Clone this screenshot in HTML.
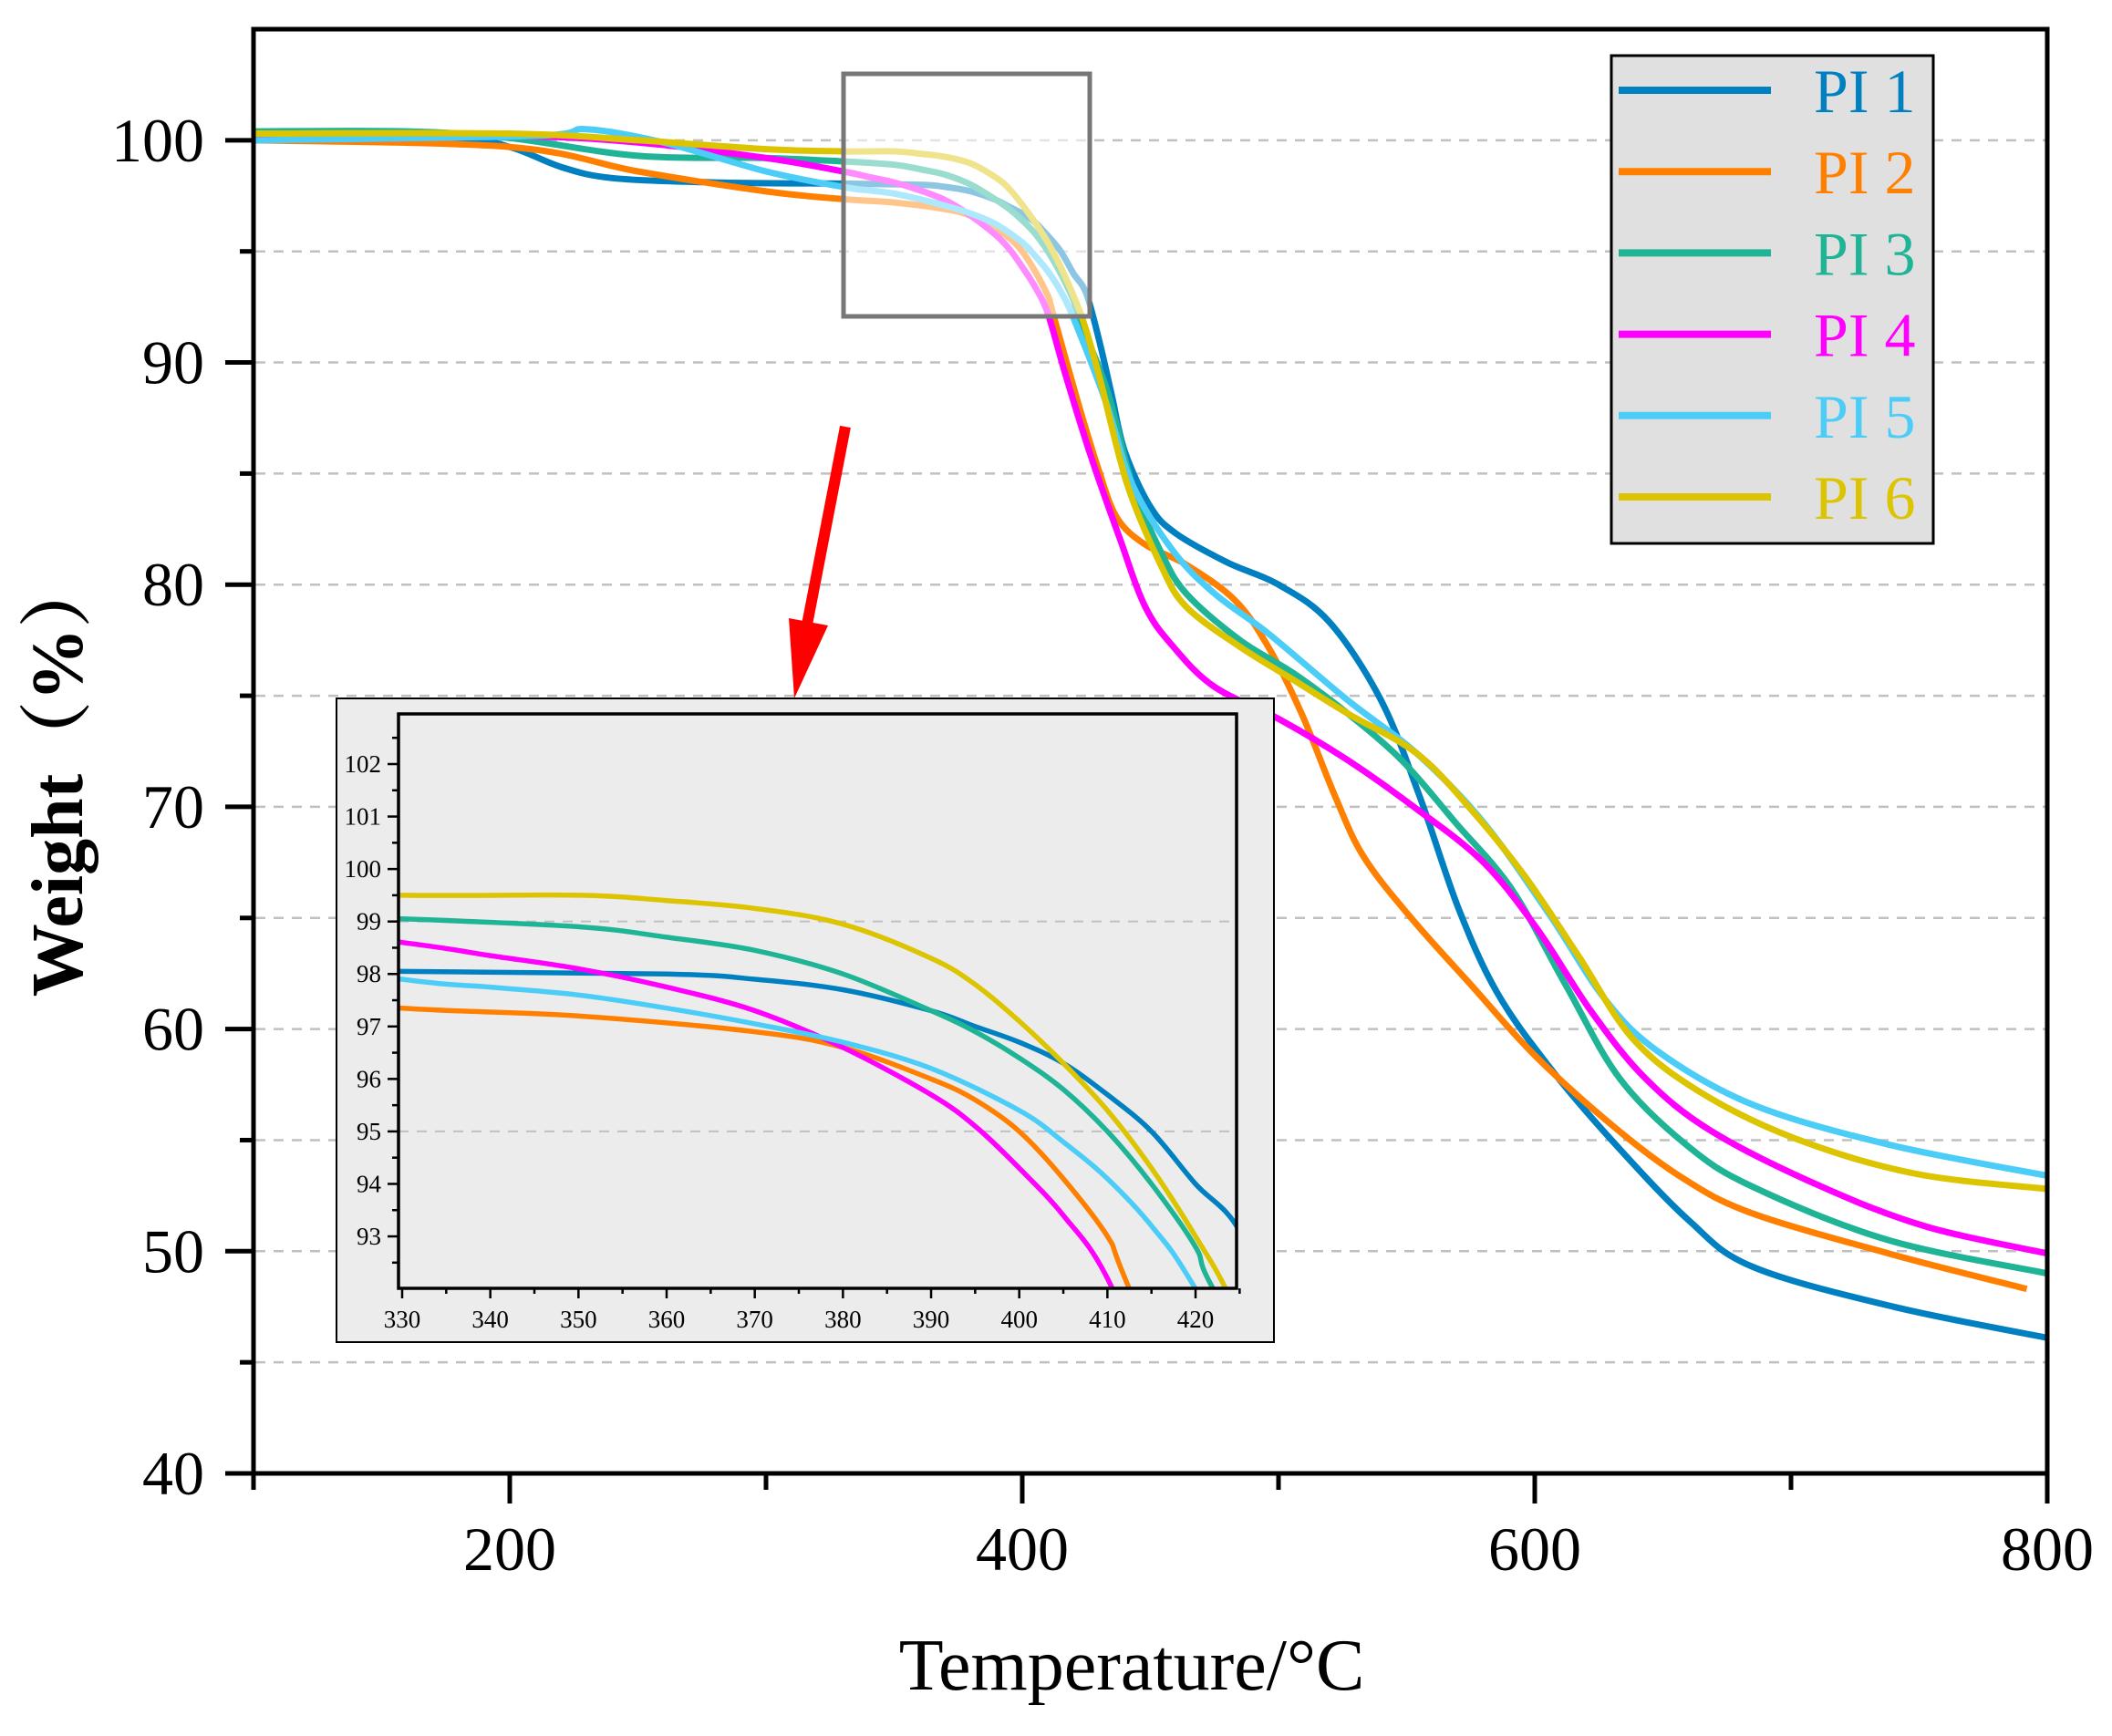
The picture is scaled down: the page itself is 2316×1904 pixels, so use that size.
<!DOCTYPE html>
<html><head><meta charset="utf-8"><style>
html,body{margin:0;padding:0;background:#fff;overflow:hidden;width:2316px;height:1904px}
svg{display:block}
text{font-family:"Liberation Serif","Noto Serif CJK SC",serif}
</style></head>
<body>
<svg id="chart" width="2316" height="1904" viewBox="0 0 2316 1904" xmlns="http://www.w3.org/2000/svg">
<defs>
<clipPath id="mainClip"><rect x="278" y="32" width="1967" height="1584"/></clipPath>
<clipPath id="insetClip"><rect x="437" y="783" width="919" height="630"/></clipPath>
</defs>
<g id="grid"></g>
<g id="mainSeries" clip-path="url(#mainClip)"></g>
<rect x="925" y="81" width="270" height="266" fill="#ffffff" fill-opacity="0.55" stroke="#777" stroke-width="5"/>
<g id="axes"></g>
<g>
<line x1="927" y1="468" x2="885" y2="685" stroke="#ff0000" stroke-width="12"/>
<polygon points="865,678 908,686 871,766" fill="#ff0000"/>
</g>
<g id="inset">
<rect x="369" y="766" width="1028" height="706" fill="#ececec" stroke="#000" stroke-width="2"/>
<g id="insetGrid"></g>
<g id="insetSeries" clip-path="url(#insetClip)"></g>
<g id="insetAxes"></g>
</g>
<g id="legend">
<rect x="1767" y="61" width="353" height="535" fill="#e0e0e0" stroke="#000" stroke-width="3"/>
</g>
<text x="1241" y="1853" font-size="80" text-anchor="middle">Temperature/°C</text>
<text transform="translate(90,851) rotate(-90)" font-size="80" font-weight="bold" text-anchor="middle">Weight（%）</text>
</svg>
<script>
const seriesNames = ["PI 1","PI 2","PI 3","PI 4","PI 5","PI 6"];
const seriesColors = ["#0080c0","#ff8000","#20b496","#ff00ff","#4ccdf8","#dcc400"];
const pi1T = [100,180,200,220,240,280,330,360,370,380,390,395,400,405,410,415,420,425,430,435,440,450,460,480,500,520,540,555,570,585,605,630,660,685,740,800];
const pi1V = [100,100,99.7,98.8,98.3,98.1,98.05,98.0,97.9,97.7,97.3,97.0,96.7,96.3,95.7,95.0,94.0,93.1,91,88.5,86,83.5,82.3,81,80,78.3,74.8,70.5,65.5,61.7,58.4,55,51.4,49.3,47.5,46.1];
const pi2T = [100,200,250,300,330,350,370,380,390,395,400,405,410,412,422,430,437,448,464,483,496,509,522,533,551,575,601,633,659,685,738,792];
const pi2V = [100,99.7,98.6,97.7,97.35,97.2,96.9,96.6,96.0,95.6,95.0,94.1,93.0,92.2,88.1,85.1,83,81.8,80.9,79.3,77.2,74.2,70.5,67.8,65.1,62,58.7,55.4,53.2,51.7,49.9,48.3];
const pi3T = [100,160,200,250,300,330,350,360,370,380,390,395,400,405,410,415,420,422,433,443,454,464,485,506,527,548,569,591,612,633,659,685,738,800];
const pi3V = [100.4,100.4,100.1,99.3,99.2,99.05,98.9,98.7,98.45,98.0,97.3,96.9,96.4,95.8,95.0,94.0,92.8,92.0,88.8,84.5,81.5,79.6,77.5,76,74.2,72.1,69.3,66.3,62,57.8,54.8,52.9,50.5,49];
const pi4T = [100,200,250,300,330,340,350,360,370,380,390,395,400,405,410,417,427,438,448,459,475,501,527,554,580,601,622,643,669,712,753,800];
const pi4V = [100.2,100.2,99.9,99.2,98.6,98.35,98.1,97.75,97.3,96.6,95.7,95.1,94.3,93.4,92.2,89.4,85.7,82.1,79,77.2,75.4,73.9,72.1,69.9,67.5,64.5,60.8,57.8,55.4,52.9,51.1,49.9];
const pi5T = [100,210,230,260,300,330,340,350,360,370,380,390,400,405,410,415,420,433,443,459,475,496,527,554,580,606,627,648,685,738,800];
const pi5V = [100,100.2,100.5,99.9,98.6,97.9,97.75,97.6,97.35,97.05,96.7,96.2,95.4,94.8,94.1,93.2,92.0,88.1,84.5,81.5,79.6,77.8,74.8,72.4,69.3,65.1,61.4,59,56.6,54.8,53.4];
const pi6T = [100,200,250,300,330,350,360,370,380,390,395,400,405,410,415,420,424,430,441,454,464,485,506,527,554,575,596,617,638,664,701,748,800];
const pi6V = [100.3,100.3,100.0,99.6,99.5,99.5,99.4,99.25,98.95,98.3,97.8,97.1,96.3,95.4,94.3,93.0,91.8,89.4,84.5,80.9,79,77.2,75.7,74.2,72.4,69.9,66.9,63.3,59.6,57.2,55.1,53.5,52.8];
const seriesT = [pi1T,pi2T,pi3T,pi4T,pi5T,pi6T];
const seriesV = [pi1V,pi2V,pi3V,pi4V,pi5V,pi6V];
const xTickLabels = [200,400,600,800];
const yTickLabels = [40,50,60,70,80,90,100];
const insetXTicks = [330,340,350,360,370,380,390,400,410,420];
const insetYTicks = [93,94,95,96,97,98,99,100,101,102];

const NS="http://www.w3.org/2000/svg";
function mk(tag,attrs,parent){const e=document.createElementNS(NS,tag);for(const k in attrs)e.setAttribute(k,attrs[k]);parent.appendChild(e);return e;}
const mx=t=>278+(t-100)*(1967/700);
const my=v=>1616-(v-40)*(1584/65);
const ix=t=>441+(t-330)*9.667;
const iy=v=>838+(102-v)*57.56;

function pathD(T,V,fx,fy){
  const p=T.map((t,i)=>[fx(t),fy(V[i])]);
  let d="M"+p[0][0].toFixed(1)+","+p[0][1].toFixed(1);
  for(let i=0;i<p.length-1;i++){
    const p0=p[Math.max(0,i-1)],p1=p[i],p2=p[i+1],p3=p[Math.min(p.length-1,i+2)];
    const c1=[p1[0]+(p2[0]-p0[0])/6,p1[1]+(p2[1]-p0[1])/6];
    const c2=[p2[0]-(p3[0]-p1[0])/6,p2[1]-(p3[1]-p1[1])/6];
    d+="C"+c1[0].toFixed(1)+","+c1[1].toFixed(1)+" "+c2[0].toFixed(1)+","+c2[1].toFixed(1)+" "+p2[0].toFixed(1)+","+p2[1].toFixed(1);
  }
  return d;
}

const grid=document.getElementById('grid');
for(let v=45;v<=100;v+=5){
  const l=mk('line',{x1:280,x2:2243,y1:my(v),y2:my(v),stroke:'#c0c0c0','stroke-width':2.5,'stroke-dasharray':'11,9'},grid);
  
  
}
const ms=document.getElementById('mainSeries');
for(let s=0;s<6;s++){
  const p=mk('path',{d:pathD(seriesT[s],seriesV[s],mx,my),fill:'none',stroke:seriesColors[s],'stroke-width':7,'stroke-linejoin':'round'},ms);
  
  
}
const ax=document.getElementById('axes');
mk('rect',{x:278,y:32,width:1967,height:1584,fill:'none',stroke:'#000','stroke-width':5},ax);
for(let t=100;t<=800;t+=100){
  const major=(t%200===0);
  mk('line',{x1:mx(t),x2:mx(t),y1:1616,y2:major?1649:1634,stroke:'#000','stroke-width':5},ax);
}
for(let v=40;v<=100;v+=5){
  const major=(v%10===0);
  mk('line',{x1:major?247:263,x2:278,y1:my(v),y2:my(v),stroke:'#000','stroke-width':5},ax);
}
xTickLabels.forEach(t=>{
  const e=mk('text',{x:mx(t),y:1722,'font-size':68,'text-anchor':'middle'},ax);
  e.textContent=t;
  
  
});
yTickLabels.forEach(v=>{
  const e=mk('text',{x:224,y:my(v)+23,'font-size':68,'text-anchor':'end'},ax);
  e.textContent=v;
  
  
});
const ig=document.getElementById('insetGrid');
[95,99].forEach(v=>{ mk('line',{x1:437,x2:1356,y1:iy(v),y2:iy(v),stroke:'#c0c0c0','stroke-width':2,'stroke-dasharray':'11,9'},ig); });
const is=document.getElementById('insetSeries');
for(let s=0;s<6;s++){
  const p=mk('path',{d:pathD(seriesT[s],seriesV[s],ix,iy),fill:'none',stroke:seriesColors[s],'stroke-width':5.5},is);
  
  
}
const ia=document.getElementById('insetAxes');
mk('rect',{x:437,y:783,width:919,height:630,fill:'none',stroke:'#000','stroke-width':3.5},ia);
for(let t=330;t<=425;t+=5){
  const major=(t%10===0);
  mk('line',{x1:ix(t),x2:ix(t),y1:1413,y2:major?1424:1419,stroke:'#000','stroke-width':2.5},ia);
}
for(let v=92.5;v<=102.9;v+=0.5){
  const major=(Math.abs(v-Math.round(v))<0.01);
  mk('line',{x1:major?425:430,x2:437,y1:iy(v),y2:iy(v),stroke:'#000','stroke-width':2.5},ia);
}
insetXTicks.forEach(t=>{
  const e=mk('text',{x:ix(t),y:1456,'font-size':27,'text-anchor':'middle'},ia);
  e.textContent=t;
  
  
});
insetYTicks.forEach(v=>{
  const e=mk('text',{x:418,y:iy(v)+9,'font-size':27,'text-anchor':'end'},ia);
  e.textContent=v;
  
  
});
const lg=document.getElementById('legend');
for(let s=0;s<6;s++){
  const y=99+s*89.2;
  const l=mk('line',{x1:1775,x2:1942,y1:y,y2:y,stroke:seriesColors[s],'stroke-width':8},lg);
  
  
  const t=mk('text',{x:1989,y:y+24,'font-size':68,fill:seriesColors[s]},lg);
  t.textContent=seriesNames[s];
  
  
}
</script>
</body></html>
